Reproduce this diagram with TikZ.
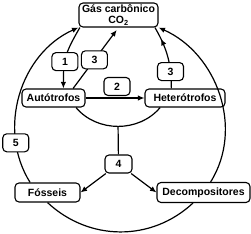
\documentclass[tikz,border=0pt]{standalone}
\usepackage{fontspec}
\setmainfont{Liberation Sans}
\usetikzlibrary{arrows.meta,decorations.markings}
\tikzset{
  block/.style={draw=black, line width=1.1pt, rounded corners=4pt, fill=white, align=center,
    inner sep=1.5pt, font=\bfseries\fontsize{10.5}{11}\selectfont},
  numblock/.style={block, minimum width=26pt, minimum height=18pt},
  link/.style={line width=1.2pt},
  arr/.style={link, -{Latex[length=6.5pt,width=5.5pt]}},
  midarr/.style={link, postaction={decorate}, decoration={markings,
    mark=at position #1 with {\arrow{Latex[length=6.5pt,width=5.5pt]}}}}
}
\begin{document}
\begin{tikzpicture}[x=1pt, y=1pt]
  \useasboundingbox (0,0) rectangle (251,-233);

  \node[block, minimum width=79pt, minimum height=24pt] (gas) at (118.5,-15) {Gás carbônico\\CO\textsubscript{2}};
  \node[block, minimum width=63pt, minimum height=18pt] (auto) at (53.5,-98) {Autótrofos};
  \node[block, minimum width=80pt, minimum height=18pt] (het) at (185,-98) {Heterótrofos};
  \node[block, minimum width=65pt, minimum height=19pt] (fos) at (47.5,-192.5) {Fósseis};
  \node[block, minimum width=93pt, minimum height=20pt] (dec) at (203.5,-192.5) {Decompositores};
  \node[numblock, minimum width=27pt] (four) at (118.5,-164) {4};

  % outer cycle
  \draw[arr] (fos.150) to[out=122,in=204] node[numblock, pos=0.23] (n5) {5} (gas.south west);
  \draw[arr] (dec.56) to[out=58,in=-24] (gas.south east);
  \draw[link] (fos.south) to[out=-43,in=223] (dec.225);

  % inner cycle
  \draw[arr] (gas.198) to[out=240,in=90,looseness=1.2] node[numblock, pos=0.6] (n1) {1} (auto.44);
  \draw[arr, shorten >=3pt] (auto.26) -- node[numblock, pos=0.47] (n3a) {3} (gas.south);
  \draw[midarr=0.8] (het.145) to[out=90,in=-60] node[numblock, pos=0.25] (n3b) {3} (gas.-19);
  \draw[arr] (auto.east) -- node[numblock, above=2pt, xshift=2pt] (n2) {2} (het.west);
  \draw[link] (auto.-23) to[out=-50,in=-130] coordinate[pos=0.5] (dip) (het.201);

  \draw[link] (dip) -- (four);
  \draw[arr] (four) -- (fos.east);
  \draw[arr] (four) -- (dec.west);
\end{tikzpicture}
\end{document}
